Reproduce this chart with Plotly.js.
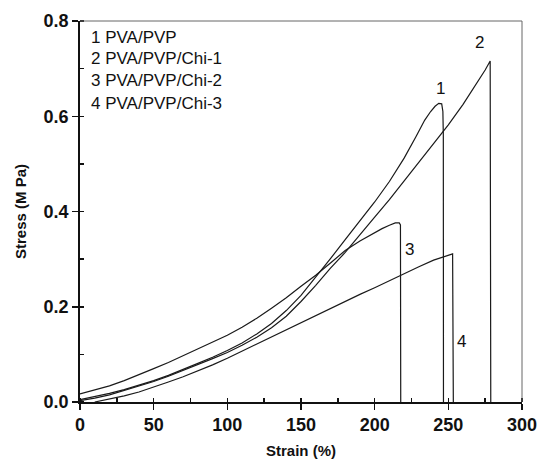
<!DOCTYPE html>
<html>
<head>
<meta charset="utf-8">
<script src="https://cdn.plot.ly/plotly-3.0.1.min.js"></script>
<style>html,body{margin:0;padding:0;background:#fff;}#chart{width:539px;height:467px;}</style>
</head>
<body>
<div id="chart"></div>
<script>
// Series names (legend text)
var names = ["PVA/PVP", "PVA/PVP/Chi-1", "PVA/PVP/Chi-2", "PVA/PVP/Chi-3"];
var labels = ["1", "2", "3", "4"];

// 1 PVA/PVP
var strain1 = [0, 10, 20, 30, 40, 50, 60, 70, 80, 90, 100, 110, 120, 130, 140, 150, 160, 170, 180, 190, 200, 210, 220, 228, 234, 238, 241, 243.5, 245.5, 246.3, 246.6, 246.7];
var stress1 = [0.005, 0.011, 0.018, 0.026, 0.035, 0.045, 0.056, 0.068, 0.081, 0.094, 0.108, 0.124, 0.143, 0.165, 0.192, 0.224, 0.262, 0.301, 0.341, 0.381, 0.420, 0.463, 0.512, 0.557, 0.592, 0.610, 0.621, 0.627, 0.626, 0.610, 0.560, 0];

// 2 PVA/PVP/Chi-1
var strain2 = [0, 10, 20, 30, 40, 50, 60, 70, 80, 90, 100, 110, 120, 130, 140, 150, 160, 170, 180, 190, 200, 210, 220, 230, 240, 250, 260, 270, 275, 278.4, 278.8];
var stress2 = [0.003, 0.008, 0.015, 0.024, 0.033, 0.043, 0.054, 0.066, 0.078, 0.091, 0.104, 0.119, 0.136, 0.156, 0.180, 0.211, 0.245, 0.281, 0.314, 0.350, 0.388, 0.425, 0.464, 0.503, 0.541, 0.582, 0.625, 0.672, 0.697, 0.716, 0];

// 3 PVA/PVP/Chi-2
var strain3 = [0, 10, 20, 30, 40, 50, 60, 70, 80, 90, 100, 110, 120, 130, 140, 150, 160, 170, 180, 190, 198, 205, 210, 214, 216.7, 217.5, 217.7];
var stress3 = [0.017, 0.025, 0.034, 0.045, 0.057, 0.070, 0.083, 0.097, 0.111, 0.125, 0.140, 0.157, 0.176, 0.197, 0.219, 0.243, 0.266, 0.292, 0.318, 0.338, 0.352, 0.364, 0.371, 0.376, 0.376, 0.372, 0];

// 4 PVA/PVP/Chi-3
var strain4 = [10, 20, 30, 40, 50, 60, 70, 80, 90, 100, 110, 120, 130, 140, 150, 160, 170, 180, 190, 200, 210, 220, 230, 240, 248, 251, 252.9, 253.4];
var stress4 = [0, 0.006, 0.013, 0.021, 0.031, 0.042, 0.053, 0.065, 0.078, 0.092, 0.107, 0.122, 0.137, 0.152, 0.167, 0.182, 0.197, 0.212, 0.226, 0.240, 0.255, 0.270, 0.284, 0.298, 0.307, 0.310, 0.311, 0];

var xs = [strain1, strain2, strain3, strain4];
var ys = [stress1, stress2, stress3, stress4];

var traces = xs.map(function (x, i) {
  return {
    x: x, y: ys[i], type: "scatter", mode: "lines",
    name: labels[i] + " " + names[i],
    line: {color: "#1a1a1a", width: 1.2},
    showlegend: false, hoverinfo: "skip"
  };
});

var FONT = "Liberation Sans, Arial, Helvetica, sans-serif";

var annotations = [];
// legend text (top-left)
var legendY = [37, 59, 81, 103];
names.forEach(function (n, i) {
  annotations.push({
    xref: "paper", yref: "paper",
    x: (89 - 80) / 442, y: 1 - (legendY[i] - 21) / 381,
    xanchor: "left", yanchor: "middle", showarrow: false,
    text: labels[i] + " " + n,
    font: {family: FONT, size: 17, color: "#111"}
  });
});
// curve labels
var curveLabelPos = [[244.4, 0.658], [270.9, 0.755], [223.3, 0.320], [258.7, 0.127]];
labels.forEach(function (l, i) {
  annotations.push({
    xref: "x", yref: "y", x: curveLabelPos[i][0], y: curveLabelPos[i][1],
    showarrow: false, text: l,
    font: {family: FONT, size: 17, color: "#111"}
  });
});

var layout = {
  width: 539, height: 467,
  margin: {l: 80, r: 17, t: 21, b: 65, pad: 0},
  paper_bgcolor: "#fff", plot_bgcolor: "#fff",
  showlegend: false,
  xaxis: {
    range: [0, 300], dtick: 50, tick0: 0,
    showgrid: false, zeroline: false,
    showline: true, linecolor: "#111", linewidth: 1.8,
    ticks: "outside", ticklen: 6, tickwidth: 1.5, tickcolor: "#111",
    minor: {dtick: 25, ticks: "inside", ticklen: 4, tickwidth: 1.5, tickcolor: "#111", showgrid: false},
    tickfont: {family: FONT, size: 18, color: "#111", weight: "bold"},
    title: {text: "Strain (%)", font: {family: FONT, size: 15, color: "#111", weight: "bold"}, standoff: 11}
  },
  yaxis: {
    range: [0, 0.8], dtick: 0.2, tick0: 0, tickformat: ".1f",
    showgrid: false, zeroline: false,
    showline: true, linecolor: "#111", linewidth: 1.8,
    ticks: "outside", ticklen: 6, tickwidth: 1.5, tickcolor: "#111",
    minor: {dtick: 0.1, ticks: "inside", ticklen: 4, tickwidth: 1.5, tickcolor: "#111", showgrid: false},
    tickfont: {family: FONT, size: 18, color: "#111", weight: "bold"},
    title: {text: "Stress (M Pa)", font: {family: FONT, size: 15, color: "#111", weight: "bold"}, standoff: 13}
  },
  shapes: [
    {type: "line", xref: "paper", yref: "paper", x0: 0, x1: 1, y0: 1, y1: 1, line: {color: "#666", width: 1}},
    {type: "line", xref: "paper", yref: "paper", x0: 1, x1: 1, y0: 0, y1: 1, line: {color: "#666", width: 1}}
  ],
  annotations: annotations
};

Plotly.newPlot("chart", traces, layout, {displayModeBar: false, staticPlot: true});
</script>
</body>
</html>
